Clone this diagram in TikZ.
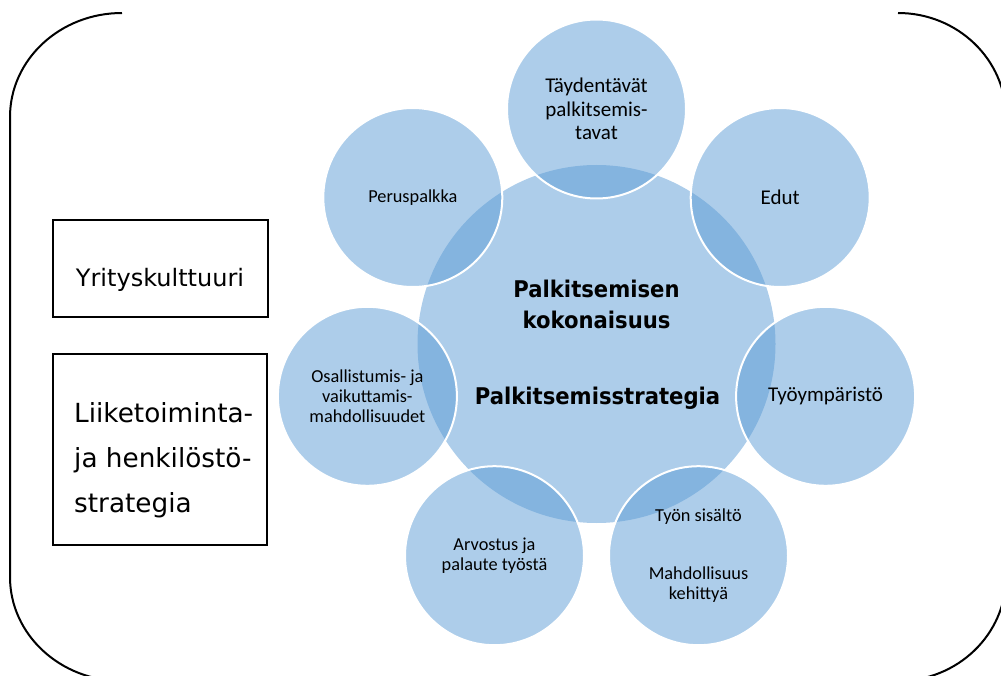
\documentclass[tikz,border=0pt]{standalone}
\usepackage{fontspec}
\setmainfont{Carlito}
\newfontfamily\boxfont{DejaVu Sans}
\newfontfamily\centerfont{DejaVu Sans}[FakeStretch=0.92]
\definecolor{accent}{RGB}{91,155,213}
\begin{document}
\begin{tikzpicture}[x=1pt,y=-1pt,
  outer/.style={circle, minimum size=179pt, inner sep=0pt, fill=accent, fill opacity=0.5, text opacity=1, draw=white, line width=2pt, align=center},
  central/.style={circle, minimum size=358pt, inner sep=0pt, fill=accent, fill opacity=0.5},
  big/.style={font=\fontsize{21}{23.5}\selectfont},
  small/.style={font=\fontsize{18.3}{20}\selectfont},
  framebox/.style={draw=black, line width=2pt, inner sep=0pt},
  bracket/.style={draw=black, line width=2pt}]
\useasboundingbox (0,0) rectangle (1001,676);
\clip (0,0) rectangle (1001,676);

% frame brackets
\coordinate (lt) at (122,13);
\coordinate (lb) at (122,681);
\coordinate (rt) at (898,13);
\coordinate (rb) at (898,681);
\draw[bracket] (lt) .. controls (60.1,13) and (10,59.6) .. (10,117)
  -- (10,577) .. controls (10,634.4) and (60.1,681) .. (lb);
\draw[bracket] (rt) .. controls (957.6,13) and (1006,59.6) .. (1006,117)
  -- (1006,577) .. controls (1006,634.4) and (957.6,681) .. (rb);

% central circle
\node[central] (C) at (596.5,344) {};
\node[inner sep=0pt, align=center, font=\centerfont\bfseries\fontsize{23}{31}\selectfont] (ct1) at (596.5,304) {Palkitsemisen\\kokonaisuus};
\node[inner sep=0pt, anchor=base, font=\centerfont\bfseries\fontsize{23}{31}\selectfont] (ct2) at (597.5,404) {Palkitsemisstrategia};

% outer circles
\node[outer, big] (o1) at (596.5,109) {Täydentävät\\palkitsemis-\\tavat};
\node[outer, big] (o2) at (780.2,197.5) {Edut};
\node[outer, big] (o3) at (825.6,396.3) {Työympäristö};
\node[outer, small] (o4) at (698.5,555.7) {Työn sisältö\\[38pt]Mahdollisuus\\kehittyä};
\node[outer, small] (o5) at (494.5,555.7) {Arvostus ja\\palaute työstä};
\node[outer, small] (o6) at (367.4,396.3) {Osallistumis- ja\\vaikuttamis-\\mahdollisuudet};
\node[outer, small] (o7) at (412.8,197.5) {Peruspalkka};

% left boxes
\node[framebox, minimum width=215pt, minimum height=97pt] (b1) at (160.5,268.5) {};
\node[inner sep=0pt, anchor=base, font=\boxfont\fontsize{24}{30}\selectfont] (b1t) at (160,287) {Yrityskulttuuri};
\node[framebox, minimum width=214pt, minimum height=191pt] (b2) at (160,449.5) {};
\node[inner sep=0pt, anchor=west, align=left, font=\boxfont\fontsize{26.3}{45}\selectfont] (b2t) at (74,460) {Liiketoiminta-\\ja henkilöstö-\\strategia};
\end{tikzpicture}
\end{document}
